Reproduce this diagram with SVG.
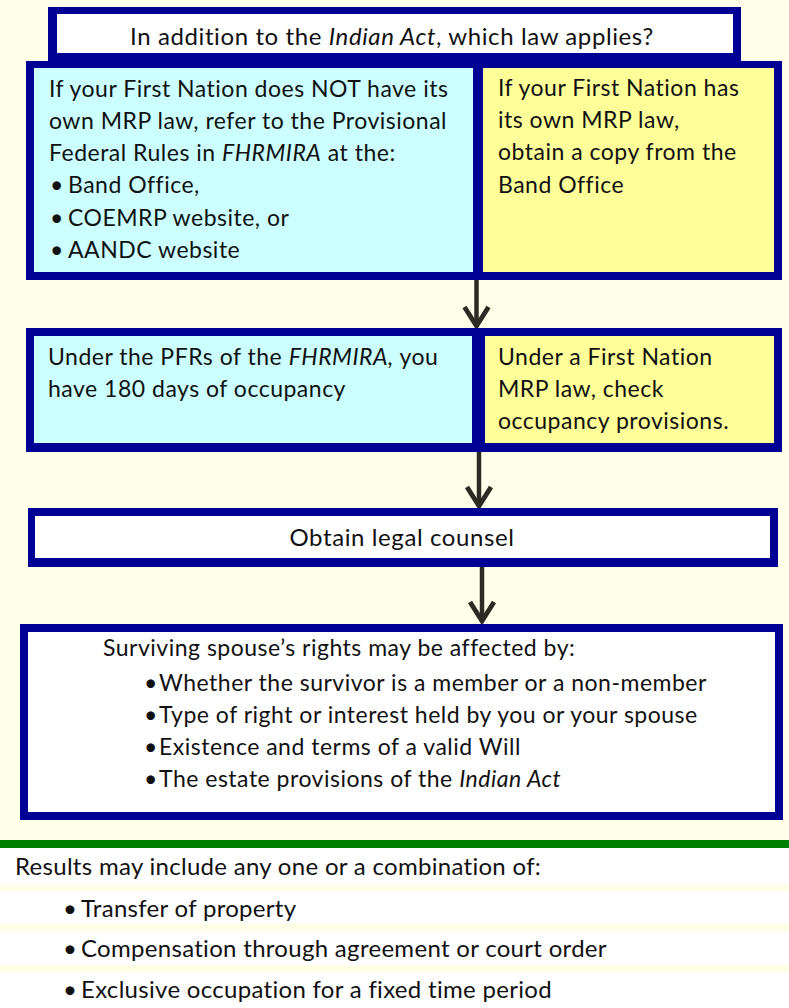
<svg xmlns="http://www.w3.org/2000/svg" width="789" height="1008" viewBox="0 0 789 1008">
<defs>
<style>
.t{font-family:Lato,"Open Sans","Liberation Sans",sans-serif;font-size:23px;letter-spacing:0.5px;fill:#111}
.big{font-size:24px;letter-spacing:0.6px}
.res{font-size:24px;letter-spacing:0.3px}
.c{text-anchor:middle}
.i{font-style:italic}
.navy{fill:#000094}
.cyan{fill:#CCFFFF}
.yel{fill:#FFFF99}
.wht{fill:#FFFFFF}
.cream{fill:#FFFEE8}
.conn{stroke:#2d2a24;stroke-width:4.5;fill:none;marker-end:url(#chev)}
</style>
<marker id="chev" markerUnits="userSpaceOnUse" markerWidth="30" markerHeight="30" refX="20" refY="12" orient="auto" overflow="visible">
<path d="M1,0 L20,12 L1,24" fill="none" stroke="#2d2a24" stroke-width="4.8" stroke-linejoin="miter"/>
</marker>
</defs>
<rect class="cream" x="0" y="0" width="789" height="840"/>
<rect fill="#008000" x="0" y="840" width="789" height="8"/>
<rect class="wht" x="0" y="848" width="789" height="160"/>
<rect class="cream" x="0" y="884" width="789" height="7"/>
<rect class="cream" x="0" y="923" width="789" height="9"/>
<rect class="cream" x="0" y="965" width="789" height="8"/>

<g id="connectors">
<line class="conn" x1="476.5" y1="280" x2="476.5" y2="326"/>
<line class="conn" x1="479" y1="452" x2="479" y2="506"/>
<line class="conn" x1="482" y1="567" x2="482" y2="621"/>
</g>

<g id="q1">
<rect class="navy" x="48" y="7" width="693" height="56"/>
<rect class="wht" x="57" y="14" width="676" height="39"/>
<text class="t big c" x="392" y="45">In addition to the <tspan class="i">Indian Act</tspan>, which law applies?</text>
</g>

<g id="row1">
<rect class="navy" x="26" y="61" width="756" height="219"/>
<g id="row1-left">
<rect class="cyan" x="34" y="68" width="439" height="204"/>
<text class="t" x="49" y="97">If your First Nation does NOT have its</text>
<text class="t" x="49" y="129">own MRP law, refer to the Provisional</text>
<text class="t" x="49" y="161">Federal Rules in <tspan class="i">FHRMIRA</tspan> at the:</text>
<text class="t" y="193"><tspan x="50">•</tspan><tspan x="68">Band Office,</tspan></text>
<text class="t" y="226"><tspan x="50">•</tspan><tspan x="68">COEMRP website, or</tspan></text>
<text class="t" y="258"><tspan x="50">•</tspan><tspan x="68">AANDC website</tspan></text>
</g>
<g id="row1-right">
<rect class="yel" x="483" y="68" width="291" height="204"/>
<text class="t" x="498" y="96">If your First Nation has</text>
<text class="t" x="498" y="128">its own MRP law,</text>
<text class="t" x="498" y="160">obtain a copy from the</text>
<text class="t" x="498" y="193">Band Office</text>
</g>
</g>

<g id="row2">
<rect class="navy" x="26" y="328" width="756" height="124"/>
<g id="row2-left">
<rect class="cyan" x="34" y="336" width="438" height="107"/>
<text class="t" x="48" y="365">Under the PFRs of the <tspan class="i">FHRMIRA,</tspan> you</text>
<text class="t" x="48" y="397">have 180 days of occupancy</text>
</g>
<g id="row2-right">
<rect class="yel" x="485" y="336" width="289" height="107"/>
<text class="t" x="498" y="365">Under a First Nation</text>
<text class="t" x="498" y="397">MRP law, check</text>
<text class="t" x="498" y="429">occupancy provisions.</text>
</g>
</g>

<g id="counsel">
<rect class="navy" x="28" y="508" width="750" height="59"/>
<rect class="wht" x="35" y="516" width="735" height="42"/>
<text class="t big c" x="402" y="546">Obtain legal counsel</text>
</g>

<g id="rights">
<rect class="navy" x="20" y="624" width="763" height="196"/>
<rect class="wht" x="28" y="632" width="747" height="180"/>
<text class="t" x="103" y="656">Surviving spouse’s rights may be affected by:</text>
<text class="t" y="691"><tspan x="144">•</tspan><tspan x="159">Whether the survivor is a member or a non-member</tspan></text>
<text class="t" y="723"><tspan x="144">•</tspan><tspan x="159">Type of right or interest held by you or your spouse</tspan></text>
<text class="t" y="755"><tspan x="144">•</tspan><tspan x="159">Existence and terms of a valid Will</tspan></text>
<text class="t" y="787"><tspan x="144">•</tspan><tspan x="159">The estate provisions of the <tspan class="i">Indian Act</tspan></tspan></text>
</g>

<g id="results">
<text class="t res" x="15" y="875">Results may include any one or a combination of:</text>
<text class="t res" y="917"><tspan x="63">•</tspan><tspan x="81">Transfer of property</tspan></text>
<text class="t res" y="957"><tspan x="63">•</tspan><tspan x="81">Compensation through agreement or court order</tspan></text>
<text class="t res" y="998"><tspan x="63">•</tspan><tspan x="81">Exclusive occupation for a fixed time period</tspan></text>
</g>
</svg>
